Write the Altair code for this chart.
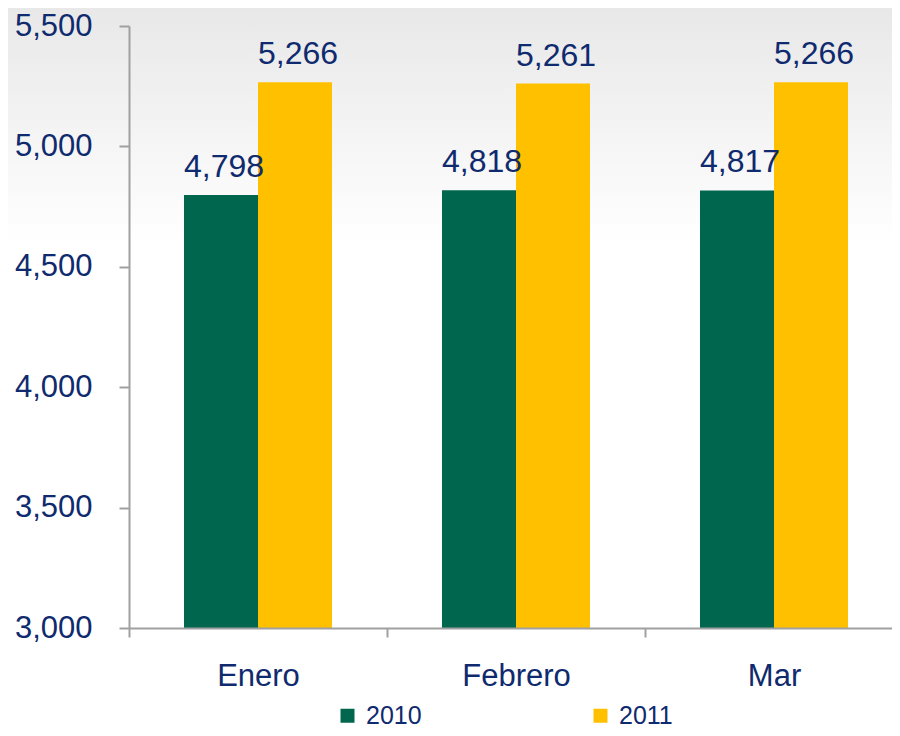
import altair as alt
import pandas as pd

months = ["Enero", "Febrero", "Mar"]
years = ["2010", "2011"]
v2010 = [4798, 4818, 4817]
v2011 = [5266, 5261, 5266]
y_ticks = [3000, 3500, 4000, 4500, 5000, 5500]

rows = []
for m, a, b in zip(months, v2010, v2011):
    rows.append({"mes": m, "year": "2010", "valor": a})
    rows.append({"mes": m, "year": "2011", "valor": b})
df = pd.DataFrame(rows)

NAVY = "#0F2A6E"
GRAY = "#A0A0A0"
GREEN = "#00664E"
YELLOW = "#FFC000"
FONT = "Liberation Sans"

W, H = 774, 602
TOP = 18

x_enc = alt.X(
    "mes:N",
    sort=months,
    scale=alt.Scale(paddingInner=0, paddingOuter=0),
    axis=alt.Axis(
        title=None, labelAngle=0, labelFontSize=31, labelColor=NAVY, labelFont=FONT,
        tickBand="extent", tickSize=9, tickColor=GRAY, tickWidth=2,
        domainColor=GRAY, domainWidth=2, labelPadding=24, grid=False, zindex=1,
    ),
)
y_enc = alt.Y(
    "valor:Q",
    scale=alt.Scale(domain=[3000, 5500], zero=False, nice=False),
    axis=alt.Axis(
        title=None, values=y_ticks, format=",d", labelFontSize=31, labelColor=NAVY,
        labelFont=FONT, tickSize=10, tickColor=GRAY, tickWidth=2, domainColor=GRAY,
        domainWidth=2, labelPadding=27, grid=False, zindex=1,
    ),
)
xoff = alt.XOffset("year:N", sort=years, scale=alt.Scale(paddingOuter=0.743, paddingInner=0))

bg = alt.Chart(pd.DataFrame({"k": [0]})).mark_rect(
    color=alt.LinearGradient(
        gradient="linear", x1=0, y1=0, x2=0, y2=1,
        stops=[alt.GradientStop(offset=0, color="#E8E8E8"),
               alt.GradientStop(offset=1, color="#FFFFFF")],
    )
).encode(
    x=alt.value(-121), x2=alt.value(W + 10), y=alt.value(-TOP), y2=alt.value(218)
)

bars = alt.Chart(df).mark_bar().encode(
    x=x_enc,
    xOffset=xoff,
    y=y_enc,
    y2=alt.datum(3000),
    color=alt.Color(
        "year:N",
        sort=years,
        scale=alt.Scale(domain=years, range=[GREEN, YELLOW]),
        legend=alt.Legend(
            title=None, orient="none", legendX=206, legendY=677, direction="horizontal",
            symbolType="square", symbolSize=196, symbolStrokeWidth=0, labelFontSize=25,
            labelColor=NAVY, labelFont=FONT, labelOffset=6, columnPadding=166, padding=0,
        ),
    ),
)

labels = alt.Chart(df).mark_text(
    align="center", baseline="alphabetic", dx=3, dy=-18, fontSize=32, color=NAVY, font=FONT
).encode(
    x=alt.X("mes:N", sort=months),
    xOffset=alt.XOffset("year:N", sort=years),
    y="valor:Q",
    text=alt.Text("valor:Q", format=",d"),
)

chart = alt.layer(bg, bars, labels).properties(
    width=W, height=H,
    autosize=alt.AutoSizeParams(type="none"),
    padding={"left": 121, "top": TOP, "right": -11, "bottom": 100},
).configure_view(strokeWidth=0).configure(background="white")

chart.save("out.html", embed_options={"renderer": "svg", "actions": False})
